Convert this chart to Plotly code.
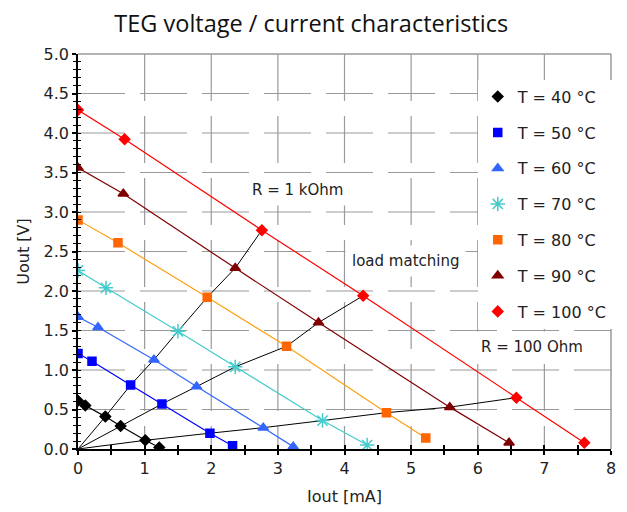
import plotly.graph_objects as go

# ---- data ----
labels = ["T = 40 °C", "T = 50 °C", "T = 60 °C", "T = 70 °C", "T = 80 °C", "T = 90 °C", "T = 100 °C"]
i_40 = [0.0, 0.11, 0.41, 0.64, 1.01, 1.22]
u_40 = [0.61, 0.55, 0.41, 0.29, 0.11, 0.02]
i_50 = [0.0, 0.21, 0.79, 1.26, 1.98, 2.32]
u_50 = [1.21, 1.11, 0.81, 0.57, 0.20, 0.04]
i_60 = [0.0, 0.30, 1.14, 1.78, 2.78, 3.23]
u_60 = [1.67, 1.54, 1.13, 0.79, 0.27, 0.03]
i_70 = [0.0, 0.42, 1.50, 2.36, 3.67, 4.34]
u_70 = [2.26, 2.04, 1.49, 1.04, 0.36, 0.05]
i_80 = [0.0, 0.60, 1.94, 3.13, 4.63, 5.22]
u_80 = [2.90, 2.61, 1.92, 1.30, 0.46, 0.14]
i_90 = [0.0, 0.68, 2.36, 3.61, 5.58, 6.47]
u_90 = [3.56, 3.23, 2.29, 1.60, 0.53, 0.08]
i_100 = [0.0, 0.70, 2.76, 4.28, 6.58, 7.60]
u_100 = [4.29, 3.92, 2.77, 1.94, 0.65, 0.08]

currents = [i_40, i_50, i_60, i_70, i_80, i_90, i_100]
voltages = [u_40, u_50, u_60, u_70, u_80, u_90, u_100]

x_ticks = [0, 1, 2, 3, 4, 5, 6, 7, 8]
y_ticks = [0.0, 0.5, 1.0, 1.5, 2.0, 2.5, 3.0, 3.5, 4.0, 4.5, 5.0]

# index of the measurement lying on each load line
load_lines = {"R = 1 kOhm": 2, "load matching": 3, "R = 100 Ohm": 4}
load_label_pos = {"R = 1 kOhm": (3.29, 3.28), "load matching": (4.91, 2.38), "R = 100 Ohm": (6.82, 1.29)}

# ---- styles ----
line_colors = ["#000000", "#0000FF", "#3366FF", "#44CCCC", "#FFA010", "#800000", "#FF0000"]
marker_colors = ["#000000", "#0000FF", "#3366FF", "#44CCCC", "#FF6600", "#800000", "#FF0000"]
symbols = ["diamond", "square", "triangle-up", "asterisk-open", "square", "triangle-up", "diamond"]
sizes = [8, 8, 9, 12, 8, 9, 8]

# figure geometry (page body has an 8px margin, so figure is 8px smaller)
W, H = 619, 504
ML, MR, MT, MB = 70, 16, 46, 63
plot_w, plot_h = W - ML - MR, H - MT - MB

fig = go.Figure()

# load lines through origin and the matching points
for name, idx in load_lines.items():
    xs = [0.0] + [c[idx] for c in currents]
    ys = [0.0] + [v[idx] for v in voltages]
    fig.add_trace(go.Scatter(x=xs, y=ys, mode="lines", line=dict(color="black", width=1),
                             showlegend=False, hoverinfo="skip"))

for k in range(len(labels)):
    fig.add_trace(go.Scatter(x=currents[k], y=voltages[k], mode="lines",
                             line=dict(color=line_colors[k], width=1.2),
                             showlegend=False, hoverinfo="skip"))
for k in range(len(labels)):
    fig.add_trace(go.Scatter(x=currents[k], y=voltages[k], mode="markers", name=labels[k],
                             legendgroup=labels[k],
                             marker=dict(symbol=symbols[k], size=sizes[k], color=marker_colors[k],
                                         line=dict(color=marker_colors[k], width=1.5))))

# invisible trace for the overlay axes (inner halves of crossing ticks)
fig.add_trace(go.Scatter(x=[None], y=[None], xaxis="x2", yaxis="y2", showlegend=False, hoverinfo="skip"))

for name, (ax, ay) in load_label_pos.items():
    fig.add_annotation(x=ax, y=ay, text=name, showarrow=False, bgcolor="white", borderpad=6,
                       font=dict(family="DejaVu Sans", size=15, color="#222"))

# long-dash grid built as short segments (47px dash, 15px gap)
gridcol = "#9a9a9a"
dash_px, gap_px = 47, 15
shapes = []
dash_d, gap_d = dash_px / plot_h, gap_px / plot_h   # domain fraction, vertical lines (top -> bottom)
for xv in x_ticks[1:-1]:
    pos = 1.0
    while pos > 0:
        end = max(pos - dash_d, 0.0)
        shapes.append(dict(type="line", xref="x", yref="y domain", x0=xv, x1=xv, y0=pos, y1=end,
                           line=dict(color=gridcol, width=1.2), layer="below"))
        pos = end - gap_d
dash_d, gap_d = dash_px / plot_w, gap_px / plot_w   # horizontal lines (left -> right)
for yv in y_ticks[1:-1]:
    pos = 0.0
    while pos < 1:
        end = min(pos + dash_d, 1.0)
        shapes.append(dict(type="line", xref="x domain", yref="y", x0=pos, x1=end, y0=yv, y1=yv,
                           line=dict(color=gridcol, width=1.2), layer="below"))
        pos = end + gap_d
shapes.append(dict(type="line", xref="x domain", yref="y domain", x0=0, x1=1, y0=1, y1=1,
                   line=dict(color=gridcol, width=1.5), layer="below"))
shapes.append(dict(type="line", xref="x domain", yref="y domain", x0=1, x1=1, y0=0, y1=1,
                   line=dict(color=gridcol, width=1.5), layer="below"))

tickfont = dict(family="DejaVu Sans", size=16, color="#222")
fig.update_layout(
    width=W, height=H,
    margin=dict(l=ML, r=MR, t=MT, b=MB, autoexpand=False),
    paper_bgcolor="white", plot_bgcolor="white",
    title=dict(text="TEG voltage / current characteristics", x=0.49, xanchor="center",
               y=0.968, yanchor="middle", font=dict(family="Open Sans", size=23.5, color="#111")),
    xaxis=dict(range=[0, 8], tickvals=x_ticks, showgrid=False, zeroline=False, showline=True,
               linecolor="black", linewidth=1.5,
               ticks="outside", ticklen=4, tickcolor="black", tickwidth=1.5, automargin=False,
               minor=dict(dtick=0.5, ticks="outside", ticklen=4, tickcolor="black", tickwidth=1.5, showgrid=False),
               tickfont=tickfont, title=dict(text="Iout [mA]", font=tickfont, standoff=14)),
    yaxis=dict(range=[0, 5], tickvals=y_ticks, tickformat=".1f", showgrid=False, zeroline=False, showline=True,
               linecolor="black", linewidth=1.5,
               ticks="outside", ticklen=4, tickcolor="black", tickwidth=1.5, automargin=False,
               minor=dict(dtick=0.1, ticks="outside", ticklen=3, tickcolor="black", tickwidth=1.2, showgrid=False),
               tickfont=tickfont, title=dict(text="Uout [V]", font=tickfont, standoff=10)),
    xaxis2=dict(range=[0, 8], overlaying="x", anchor="y", side="bottom", showgrid=False, zeroline=False,
                showline=False, showticklabels=False, ticks="inside", dtick=0.5, tick0=0, ticklen=4,
                tickcolor="black", tickwidth=1.5, automargin=False),
    yaxis2=dict(range=[0, 5], overlaying="y", anchor="x", side="left", showgrid=False, zeroline=False,
                showline=False, showticklabels=False, ticks="inside", dtick=0.1, tick0=0, ticklen=3,
                tickcolor="black", tickwidth=1.2, automargin=False),
    legend=dict(x=0.75, y=0.935, xanchor="left", yanchor="top", bgcolor="white", borderwidth=0,
                traceorder="grouped", tracegroupgap=12,
                font=dict(family="DejaVu Sans", size=16, color="#222")),
    shapes=shapes,
)

fig.write_html("out.html")
